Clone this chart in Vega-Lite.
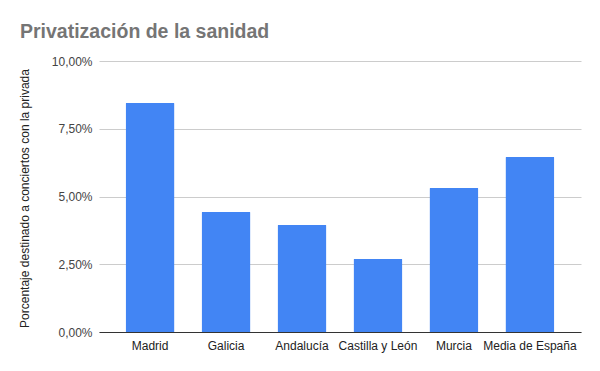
{
  "$schema": "https://vega.github.io/schema/vega-lite/v6.json",
  "autosize": "none",
  "width": 482,
  "height": 271,
  "padding": {"left": 99, "top": 61, "right": 19, "bottom": 39},
  "background": "white",
  "title": {
    "text": "Privatización de la sanidad",
    "anchor": "start",
    "frame": "group",
    "dx": -79,
    "dy": 26,
    "offset": 24,
    "baseline": "alphabetic",
    "font": "Liberation Sans",
    "fontSize": 19.5,
    "fontWeight": "bold",
    "color": "#757575"
  },
  "data": {
    "values": [
      {"region": "Madrid", "pct": 0.0845},
      {"region": "Galicia", "pct": 0.0443},
      {"region": "Andalucía", "pct": 0.0395},
      {"region": "Castilla y León", "pct": 0.0269},
      {"region": "Murcia", "pct": 0.0531},
      {"region": "Media de España", "pct": 0.0646}
    ]
  },
  "mark": {"type": "bar", "color": "#4285F4", "cornerRadiusTopLeft": 1, "cornerRadiusTopRight": 1},
  "encoding": {
    "x": {
      "field": "region",
      "type": "nominal",
      "sort": null,
      "scale": {"paddingInner": 0.355, "paddingOuter": 0.35},
      "axis": {
        "title": null,
        "labelAngle": 0,
        "ticks": false,
        "labelPadding": 8,
        "labelFont": "Liberation Sans",
        "labelFontSize": 12,
        "labelColor": "#222222",
        "domainColor": "#333333",
        "grid": false
      }
    },
    "y": {
      "field": "pct",
      "type": "quantitative",
      "scale": {"domain": [0, 0.1], "nice": false},
      "axis": {
        "values": [0, 0.025, 0.05, 0.075, 0.1],
        "labelExpr": "replace(format(datum.value, '.2%'), '.', ',')",
        "title": "Porcentaje destinado a conciertos con la privada",
        "titleFont": "Liberation Sans",
        "titleFontSize": 12,
        "titleFontWeight": "normal",
        "titleColor": "#222222",
        "titleX": -75,
        "titleY": 137,
        "titleAngle": 270,
        "titleAlign": "center",
        "titleBaseline": "middle",
        "labelFont": "Liberation Sans",
        "labelFontSize": 12,
        "labelColor": "#444444",
        "labelPadding": 7,
        "ticks": false,
        "domain": false,
        "gridColor": "#cccccc",
        "gridWidth": 1
      }
    }
  },
  "config": {"view": {"stroke": null}}
}
